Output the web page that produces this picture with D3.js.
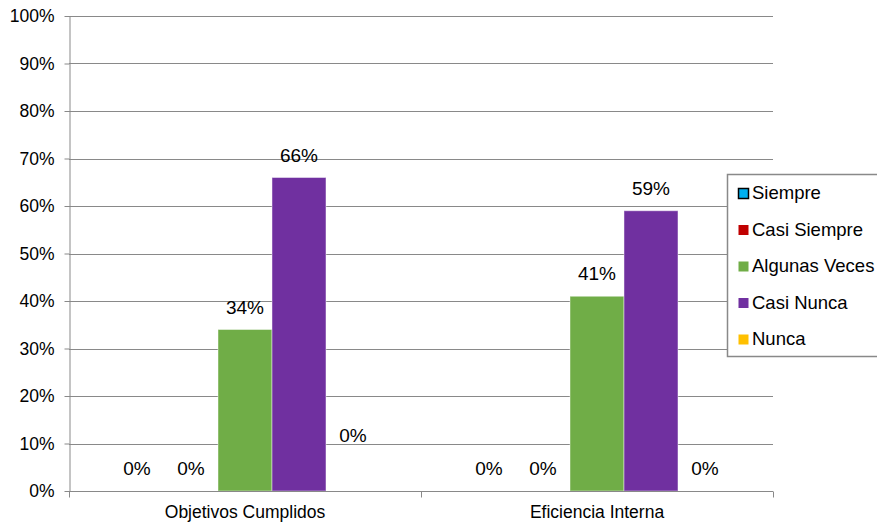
<!DOCTYPE html>
<html>
<head>
<meta charset="utf-8">
<script src="https://cdn.jsdelivr.net/npm/d3@7"></script>
<style>
  html, body { margin: 0; padding: 0; background: #fff; }
  svg { display: block; font-family: Arial, "Liberation Sans", sans-serif; }
</style>
</head>
<body>
<svg id="chart" width="877" height="525"></svg>
<script>
// Survey results per indicator
const categories = ["Objetivos Cumplidos", "Eficiencia Interna"];
const seriesNames = ["Siempre", "Casi Siempre", "Algunas Veces", "Casi Nunca", "Nunca"];
const siempre = [0, 0];
const casiSiempre = [0, 0];
const algunasVeces = [0.34, 0.41];
const casiNunca = [0.66, 0.59];
const nunca = [0, 0];
const yTicks = [0, 0.1, 0.2, 0.3, 0.4, 0.5, 0.6, 0.7, 0.8, 0.9, 1.0];
const seriesColors = ["#00B0F0", "#C00000", "#70AD47", "#7030A0", "#FFC000"];
// extra vertical lift for labels that were nudged up
const labelLift = [[0, 0, 0, 0, 33], [0, 0, 0, 0, 0]];

const seriesValues = [siempre, casiSiempre, algunasVeces, casiNunca, nunca];

const svg = d3.select("#chart");
const plot = { left: 69, right: 773, top: 16, bottom: 491 };

const y = d3.scaleLinear().domain([0, 1]).range([plot.bottom, plot.top]);
const x0 = d3.scaleBand().domain(categories).range([plot.left, plot.right]).padding(0);
const x1 = d3.scaleBand().domain(seriesNames).range([0, x0.bandwidth()])
  .paddingInner(0).paddingOuter(0.76);

const gridColor = "#898989";

// horizontal gridlines
svg.append("g")
  .selectAll("line")
  .data(yTicks.filter(d => d > 0))
  .join("line")
  .attr("x1", plot.left).attr("x2", plot.right)
  .attr("y1", d => Math.round(y(d)) + 0.5).attr("y2", d => Math.round(y(d)) + 0.5)
  .attr("stroke", gridColor).attr("stroke-width", 1);

// y axis
const yAxis = svg.append("g")
  .attr("transform", `translate(${plot.left + 0.5},0)`)
  .call(d3.axisLeft(y).tickValues(yTicks).tickFormat(d3.format(".0%")).tickSizeInner(5).tickSizeOuter(0).tickPadding(10));
yAxis.select(".domain").attr("stroke", gridColor);
yAxis.selectAll(".tick line").attr("stroke", gridColor);
yAxis.selectAll(".tick text").attr("font-size", 17.5).attr("fill", "#000")
  .attr("font-family", "Arial, 'Liberation Sans', sans-serif");

// bars
const groups = svg.append("g")
  .selectAll("g")
  .data(categories)
  .join("g")
  .attr("transform", d => `translate(${x0(d)},0)`);

groups.selectAll("rect")
  .data((c, ci) => seriesNames.map((s, si) => ({ s, si, ci, v: seriesValues[si][ci] })))
  .join("rect")
  .attr("x", d => x1(d.s))
  .attr("width", x1.bandwidth())
  .attr("y", d => y(d.v))
  .attr("height", d => y(0) - y(d.v))
  .attr("fill", d => seriesColors[d.si])
  .attr("stroke", d => d.v > 0 ? "#ffffff" : "none")
  .attr("stroke-opacity", 0.45)
  .attr("stroke-width", 1);

// value labels
groups.selectAll("text")
  .data((c, ci) => seriesNames.map((s, si) => ({ s, si, ci, v: seriesValues[si][ci] })))
  .join("text")
  .attr("x", d => x1(d.s) + x1.bandwidth() / 2)
  .attr("y", d => y(d.v) - 16 - labelLift[d.ci][d.si])
  .attr("text-anchor", "middle")
  .attr("font-size", 19)
  .attr("fill", "#000")
  .text(d => d3.format(".0%")(d.v));

// x axis
const xAxis = svg.append("g")
  .attr("transform", `translate(0,${plot.bottom + 0.5})`)
  .call(d3.axisBottom(x0).tickSize(0).tickPadding(0));
xAxis.select(".domain").remove();
xAxis.append("line")
  .attr("x1", plot.left).attr("x2", plot.right)
  .attr("stroke", gridColor);
xAxis.selectAll(".boundary")
  .data([plot.left, plot.left + x0.bandwidth(), plot.right])
  .join("line")
  .attr("class", "boundary")
  .attr("x1", d => Math.round(d) + 0.5).attr("x2", d => Math.round(d) + 0.5)
  .attr("y1", 0).attr("y2", 6)
  .attr("stroke", gridColor);
xAxis.selectAll(".tick text")
  .attr("y", 26)
  .attr("dy", 0)
  .attr("font-size", 17.5)
  .attr("fill", "#000")
  .attr("font-family", "Arial, 'Liberation Sans', sans-serif");

// legend
const legend = svg.append("g").attr("transform", "translate(727,174)");
legend.append("rect")
  .attr("x", 0.5).attr("y", 0.5)
  .attr("width", 160).attr("height", 182)
  .attr("fill", "#fff").attr("stroke", gridColor).attr("stroke-width", 1.5);
const items = legend.selectAll(".item")
  .data(seriesNames)
  .join("g")
  .attr("class", "item")
  .attr("transform", (d, i) => `translate(0,${25 + i * 36.5})`);
items.append("rect")
  .attr("x", 11.5).attr("y", -10.5)
  .attr("width", 10).attr("height", 10)
  .attr("fill", (d, i) => seriesColors[i])
  .attr("stroke", (d, i) => i === 0 ? "#000" : "none")
  .attr("stroke-width", 1.5);
items.append("text")
  .attr("x", 25)
  .attr("y", 0)
  .attr("font-size", 18.5)
  .attr("fill", "#000")
  .text(d => d);
</script>
</body>
</html>
